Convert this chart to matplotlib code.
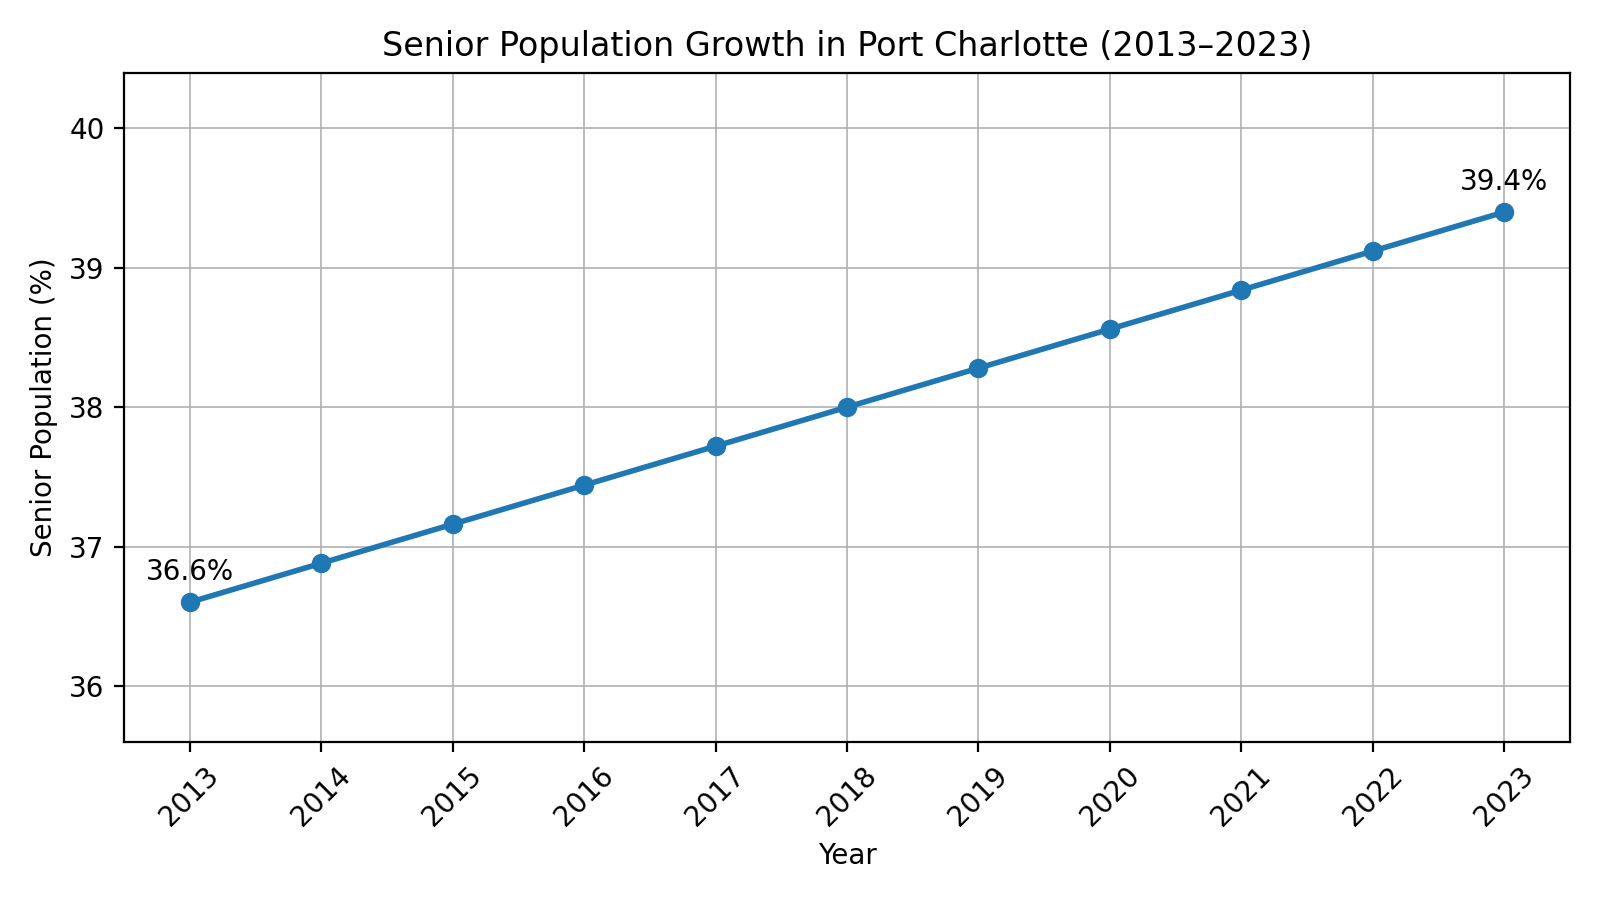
import matplotlib
matplotlib.use("Agg")
import matplotlib.pyplot as plt

years = [2013, 2014, 2015, 2016, 2017, 2018, 2019, 2020, 2021, 2022, 2023]
senior_pct = [36.6, 36.88, 37.16, 37.44, 37.72, 38.0, 38.28, 38.56, 38.84, 39.12, 39.4]

fig, ax = plt.figure(figsize=(8, 4.5), dpi=200), None
ax = fig.add_subplot(111)

ax.plot(years, senior_pct, marker='o', linewidth=2, markersize=6, color='#1f77b4')

# label first and last points
for x, y in [(years[0], senior_pct[0]), (years[-1], senior_pct[-1])]:
    ax.annotate(f"{y:.1f}%", (x, y), textcoords="offset points", xytext=(0, 8),
                ha='center', fontsize=10)

ax.set_title("Senior Population Growth in Port Charlotte (2013\u20132023)", fontsize=12)
ax.set_xlabel("Year")
ax.set_ylabel("Senior Population (%)")
ax.set_xticks(years)
ax.set_xticklabels([str(y) for y in years], rotation=45)
ax.set_xlim(2012.5, 2023.5)
ax.set_ylim(35.6, 40.4)
ax.grid(True, color='#b0b0b0', linewidth=0.6)

fig.tight_layout()
fig.savefig("out.png", dpi=200)
